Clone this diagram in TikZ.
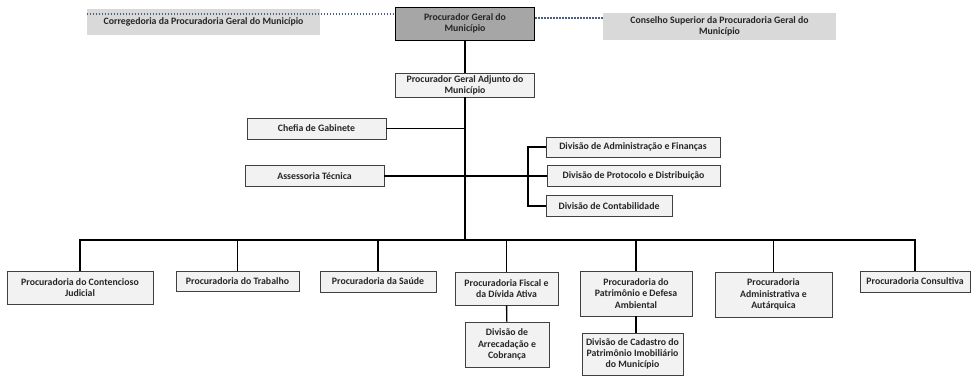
\documentclass[tikz,border=0pt]{standalone}
\usepackage{fontspec}
\setmainfont{Carlito}
\usepackage{xcolor}
\usepackage{tikz}
\definecolor{boxgray}{HTML}{F2F2F2}
\definecolor{topgray}{HTML}{A6A6A6}
\definecolor{sidegray}{HTML}{D9D9D9}
\definecolor{dotblue}{HTML}{4A5E80}

\begin{document}
\begin{tikzpicture}[x=1pt,y=-1pt,
unit/.style={rectangle,draw=black!75,fill=boxgray,line width=0.8pt,inner sep=1pt,align=center,
  font=\fontsize{9.8}{11.2}\selectfont\bfseries,text=black!85},
head/.style={unit,draw=black,fill=topgray},
side/.style={unit,draw=none,fill=sidegray},
link/.style={line width=1.4pt},
dotlink/.style={line width=1.8pt,dotblue,dash pattern=on 1.5pt off 1.5pt}]
\useasboundingbox (0,0) rectangle (971,375);
% top level
\node[head,minimum width=139,minimum height=33] (PG) at (465, 23.5) {Procurador Geral do\\Município};
\node[side,minimum width=233,minimum height=26] (Corr) at (203.5, 22) {Corregedoria da Procuradoria Geral do Município};
\node[side,minimum width=233,minimum height=27] (Cons) at (719.5, 26.5) {Conselho Superior da Procuradoria Geral do\\Município};
\node[unit,minimum width=139,minimum height=24] (Adj) at (465, 85) {Procurador Geral Adjunto do\\Município};
% assessoramento
\node[unit,minimum width=139,minimum height=21] (Chefia) at (316.5, 128.5) {Chefia de Gabinete};
\node[unit,minimum width=139,minimum height=21] (Assess) at (314.5, 176) {Assessoria Técnica};
\node[unit,minimum width=174,minimum height=20] (DAdm) at (633, 147) {Divisão de Administração e Finanças};
\node[unit,minimum width=173,minimum height=21] (DProt) at (633.5, 176) {Divisão de Protocolo e Distribuição};
\node[unit,minimum width=126,minimum height=21] (DCont) at (609, 206) {Divisão de Contabilidade};
% procuradorias
\node[unit,minimum width=146,minimum height=33] (Cont) at (80, 287.5) {Procuradoria do Contencioso\\Judicial};
\node[unit,minimum width=123,minimum height=20] (Trab) at (237.5, 281) {Procuradoria do Trabalho};
\node[unit,minimum width=116,minimum height=21] (Saude) at (378, 281.5) {Procuradoria da Saúde};
\node[unit,minimum width=103,minimum height=33] (Fisc) at (506.5, 288.5) {Procuradoria Fiscal e\\da Dívida Ativa};
\node[unit,minimum width=112,minimum height=45] (Patr) at (636, 293.5) {Procuradoria do\\Patrimônio e Defesa\\Ambiental};
\node[unit,minimum width=117,minimum height=45] (Admin) at (773.5, 294.5) {Procuradoria\\Administrativa e\\Autárquica};
\node[unit,minimum width=110,minimum height=21] (Consul) at (915, 281.5) {Procuradoria Consultiva};
\node[unit,minimum width=84,minimum height=45] (Arrec) at (507, 344.5) {Divisão de\\Arrecadação e\\Cobrança};
\node[unit,minimum width=101,minimum height=42] (Cad) at (632.5, 354) {Divisão de Cadastro do\\Patrimônio Imobiliário\\do Município};
\coordinate (bus) at (465, 240);
\coordinate (brk) at (528, 176);
% ligações
\draw[dotlink] ([yshift=-5pt]Corr.north west) -- ([yshift=-5pt]Corr.north west -| PG.west);
\draw[dotlink] ([yshift=-5pt]Cons.north west) -- ([yshift=-5pt]Cons.north west -| PG.east);
\draw[link] (PG) -- (Adj);
\draw[link] (Adj.south) -- (bus);
\draw[link] (Chefia.east) -- (Chefia.east -| bus);
\draw[link] (Assess.east) -- (DProt.west);
\draw[link] (DAdm.west) -| (brk) |- (DCont.west);
\draw[link] (Cont.north) |- (bus) -| (Consul.north);
\foreach \n in {Trab,Saude,Fisc,Patr,Admin}
  \draw[link] (\n.north) -- (\n.north |- bus);
\draw[link] (Fisc) -- (Arrec);
\draw[link] (Patr.south) -- (Patr.south |- Cad.north);
\end{tikzpicture}
\end{document}
